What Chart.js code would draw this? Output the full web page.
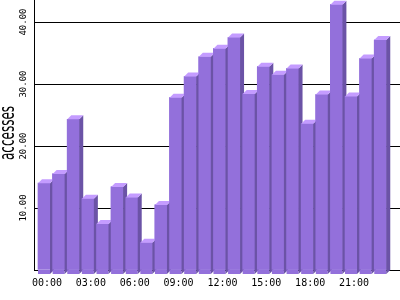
<!DOCTYPE html>
<html>
<head>
<meta charset="utf-8">
<script src="https://cdn.jsdelivr.net/npm/chart.js@4/dist/chart.umd.min.js"></script>
<style>
  html, body { margin: 0; padding: 0; background: #fff; }
  #wrap { width: 400px; height: 300px; }
</style>
</head>
<body>
<div id="wrap"><canvas id="chart" width="400" height="300"></canvas></div>
<script>
// hourly accesses
const hours = ['00:00', '01:00', '02:00', '03:00', '04:00', '05:00', '06:00', '07:00',
  '08:00', '09:00', '10:00', '11:00', '12:00', '13:00', '14:00', '15:00',
  '16:00', '17:00', '18:00', '19:00', '20:00', '21:00', '22:00', '23:00'];
const accesses = [14.0, 15.5, 24.3, 11.5, 7.4, 13.4, 11.7, 4.4, 10.5, 27.8, 31.2, 34.4,
  35.7, 37.5, 28.4, 32.8, 31.5, 32.5, 23.6, 28.3, 42.8, 28.0, 34.1, 37.1];
const yTicks = [0, 10, 20, 30, 40];
const xTicks = [0, 3, 6, 9, 12, 15, 18, 21];
const yTitle = 'accesses';

const FRONT = '#9370db';
const SIDE = '#6b53a6';
const TOP = '#c49cff';
const DEPTH = 4;

// side + top faces, front pushed a bit below the axis
const bars3d = {
  id: 'bars3d',
  afterDatasetsDraw(chart) {
    const ctx = chart.ctx;
    const bars = chart.getDatasetMeta(0).data;
    const base = chart.scales.y.getPixelForValue(0);
    ctx.save();
    bars.forEach((bar, i) => {
      const x0 = bar.x - bar.width / 2;
      const x1 = bar.x + bar.width / 2;
      const yt = bar.y;
      ctx.fillStyle = FRONT;
      ctx.fillRect(x0, base, bar.width, DEPTH);
      ctx.fillStyle = SIDE;
      ctx.beginPath();
      ctx.moveTo(x1, yt);
      ctx.lineTo(x1 + DEPTH, yt - DEPTH);
      ctx.lineTo(x1 + DEPTH, base);
      ctx.lineTo(x1, base + DEPTH);
      ctx.closePath();
      ctx.fill();
      ctx.fillStyle = TOP;
      ctx.beginPath();
      ctx.moveTo(x0, yt);
      ctx.lineTo(x1, yt);
      ctx.lineTo(x1 + DEPTH, yt - DEPTH);
      ctx.lineTo(x0 + DEPTH, yt - DEPTH);
      ctx.closePath();
      ctx.fill();
      // next bar sits in front of this one's side face
      if (bars[i + 1]) bars[i + 1].draw(ctx);
    });
    ctx.restore();
  }
};

// rotated y labels and the squashed axis title
const yLabels = {
  id: 'yLabels',
  afterDraw(chart) {
    const ctx = chart.ctx;
    const y = chart.scales.y;
    const area = chart.chartArea;
    ctx.save();
    ctx.fillStyle = '#000';
    ctx.textAlign = 'center';
    ctx.textBaseline = 'alphabetic';
    ctx.font = '9px "DejaVu Sans Mono"';
    yTicks.filter(v => v > 0).forEach(v => {
      ctx.save();
      ctx.translate(26, y.getPixelForValue(v));
      ctx.rotate(-Math.PI / 2);
      ctx.fillText(v.toFixed(2), 0, 0);
      ctx.restore();
    });
    ctx.font = '12px "DejaVu Sans"';
    ctx.translate(14, (area.top + area.bottom) / 2 - 2);
    ctx.rotate(-Math.PI / 2);
    ctx.scale(1, 1.8);
    ctx.fillText(yTitle, 0, 0);
    ctx.restore();
  }
};

new Chart(document.getElementById('chart'), {
  type: 'bar',
  data: {
    datasets: [{
      data: accesses.map((v, i) => ({ x: i, y: v })),
      backgroundColor: FRONT,
      borderWidth: 0,
      barThickness: 12,
    }],
  },
  options: {
    responsive: false,
    animation: false,
    devicePixelRatio: 1,
    layout: { padding: 0 },
    plugins: { legend: { display: false }, tooltip: { enabled: false } },
    scales: {
      x: {
        type: 'linear',
        offset: false,
        min: -0.684,
        max: 24.35,
        afterBuildTicks: (s) => { s.ticks = xTicks.map(v => ({ value: v })); },
        afterFit: (s) => { s.height = 30; },
        grid: { display: false, offset: false },
        border: { display: true, color: '#000', width: 1 },
        ticks: {
          color: '#000',
          font: { family: 'DejaVu Sans Mono', size: 10 },
          padding: -1,
          labelOffset: 3,
          maxRotation: 0,
          autoSkip: false,
          callback: (v) => hours[v],
        },
      },
      y: {
        min: 0,
        max: 43.55,
        afterBuildTicks: (s) => { s.ticks = yTicks.map(v => ({ value: v })); },
        afterFit: (s) => { s.width = 34; },
        grid: { color: '#000', lineWidth: 1, drawTicks: false },
        border: { display: true, color: '#000', width: 1 },
        ticks: { display: false },
      },
    },
  },
  plugins: [bars3d, yLabels],
});
</script>
</body>
</html>
